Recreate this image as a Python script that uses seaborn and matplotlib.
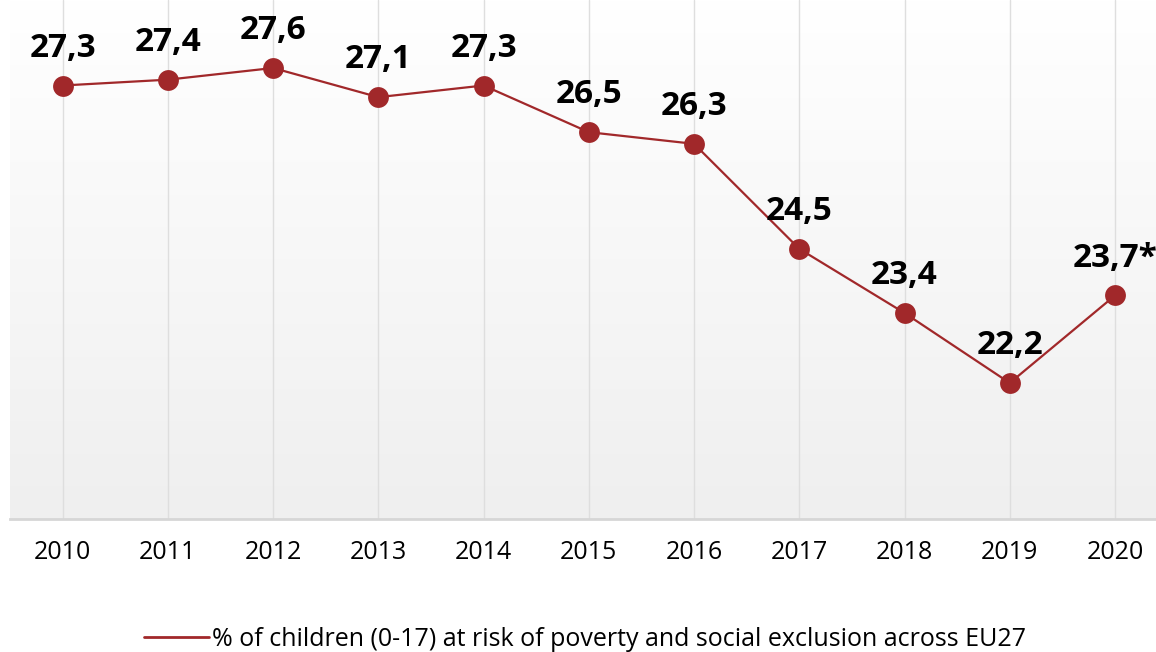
import numpy as np
import pandas as pd
import matplotlib
matplotlib.use("Agg")
import matplotlib.pyplot as plt
import seaborn as sns
from matplotlib.colors import LinearSegmentedColormap
from matplotlib.lines import Line2D

years = [2010, 2011, 2012, 2013, 2014, 2015, 2016, 2017, 2018, 2019, 2020]
values = [27.3, 27.4, 27.6, 27.1, 27.3, 26.5, 26.3, 24.5, 23.4, 22.2, 23.7]
point_labels = ["27,3", "27,4", "27,6", "27,1", "27,3", "26,5", "26,3", "24,5", "23,4", "22,2", "23,7*"]
series_name = "% of children (0-17) at risk of poverty and social exclusion across EU27"

sns.set_theme(style="white")
plt.rcParams['font.family'] = ['Open Sans', 'DejaVu Sans']
plt.rcParams['text.color'] = 'black'

W, H = 1156, 652
fig = plt.figure(figsize=(W / 100, H / 100), dpi=100)
ax = fig.add_axes([10 / W, (H - 519) / H, (W - 10) / W, 519 / H])

color = "#A1282A"
df = pd.DataFrame({"year": years, "value": values, "series": series_name})

ymin, ymax = 22.2 - (519 - 383) / 58.33, 27.6 + 68 / 58.33
xmin, xmax = 2009.5, 2020 + (W - 1115) / 105.2
cmap = LinearSegmentedColormap.from_list("bg", ["#ffffff", "#efefef"])
ax.imshow(np.linspace(0, 1, 256).reshape(-1, 1), extent=[xmin, xmax, ymin, ymax],
          aspect="auto", cmap=cmap, origin="upper", zorder=0, vmin=0, vmax=1)

for x in years:
    ax.axvline(x, color="#dedede", lw=1.0, zorder=1)

sns.lineplot(data=df, x="year", y="value", hue="series", palette=[color],
             marker="o", markersize=15, markeredgewidth=0, linewidth=1.6,
             ax=ax, zorder=3, legend=False)

for x, v, lab in zip(years, values, point_labels):
    ax.annotate(lab, (x, v), xytext=(0, 15), textcoords="offset points",
                ha="center", va="bottom", fontsize=24, fontweight="bold",
                color="black", zorder=4)

ax.set_xlim(xmin, xmax)
ax.set_ylim(ymin, ymax)
ax.set_xticks(years)
ax.set_xticklabels([str(y) for y in years], fontsize=18, color="black")
ax.set_yticks([])
ax.set_xlabel("")
ax.set_ylabel("")
for s in ["top", "right", "left"]:
    ax.spines[s].set_visible(False)
ax.spines["bottom"].set_color("#d6d6d6")
ax.spines["bottom"].set_linewidth(2)
ax.tick_params(axis="x", length=0, pad=15)

handle = Line2D([], [], color=color, lw=2)
leg = fig.legend([handle], [series_name], loc="center", bbox_to_anchor=(585 / W, 1 - 639 / H),
                 frameon=False, fontsize=18, handlelength=2.6, handletextpad=0.15)
for t in leg.get_texts():
    t.set_color("black")

fig.savefig("out.png", dpi=100)
